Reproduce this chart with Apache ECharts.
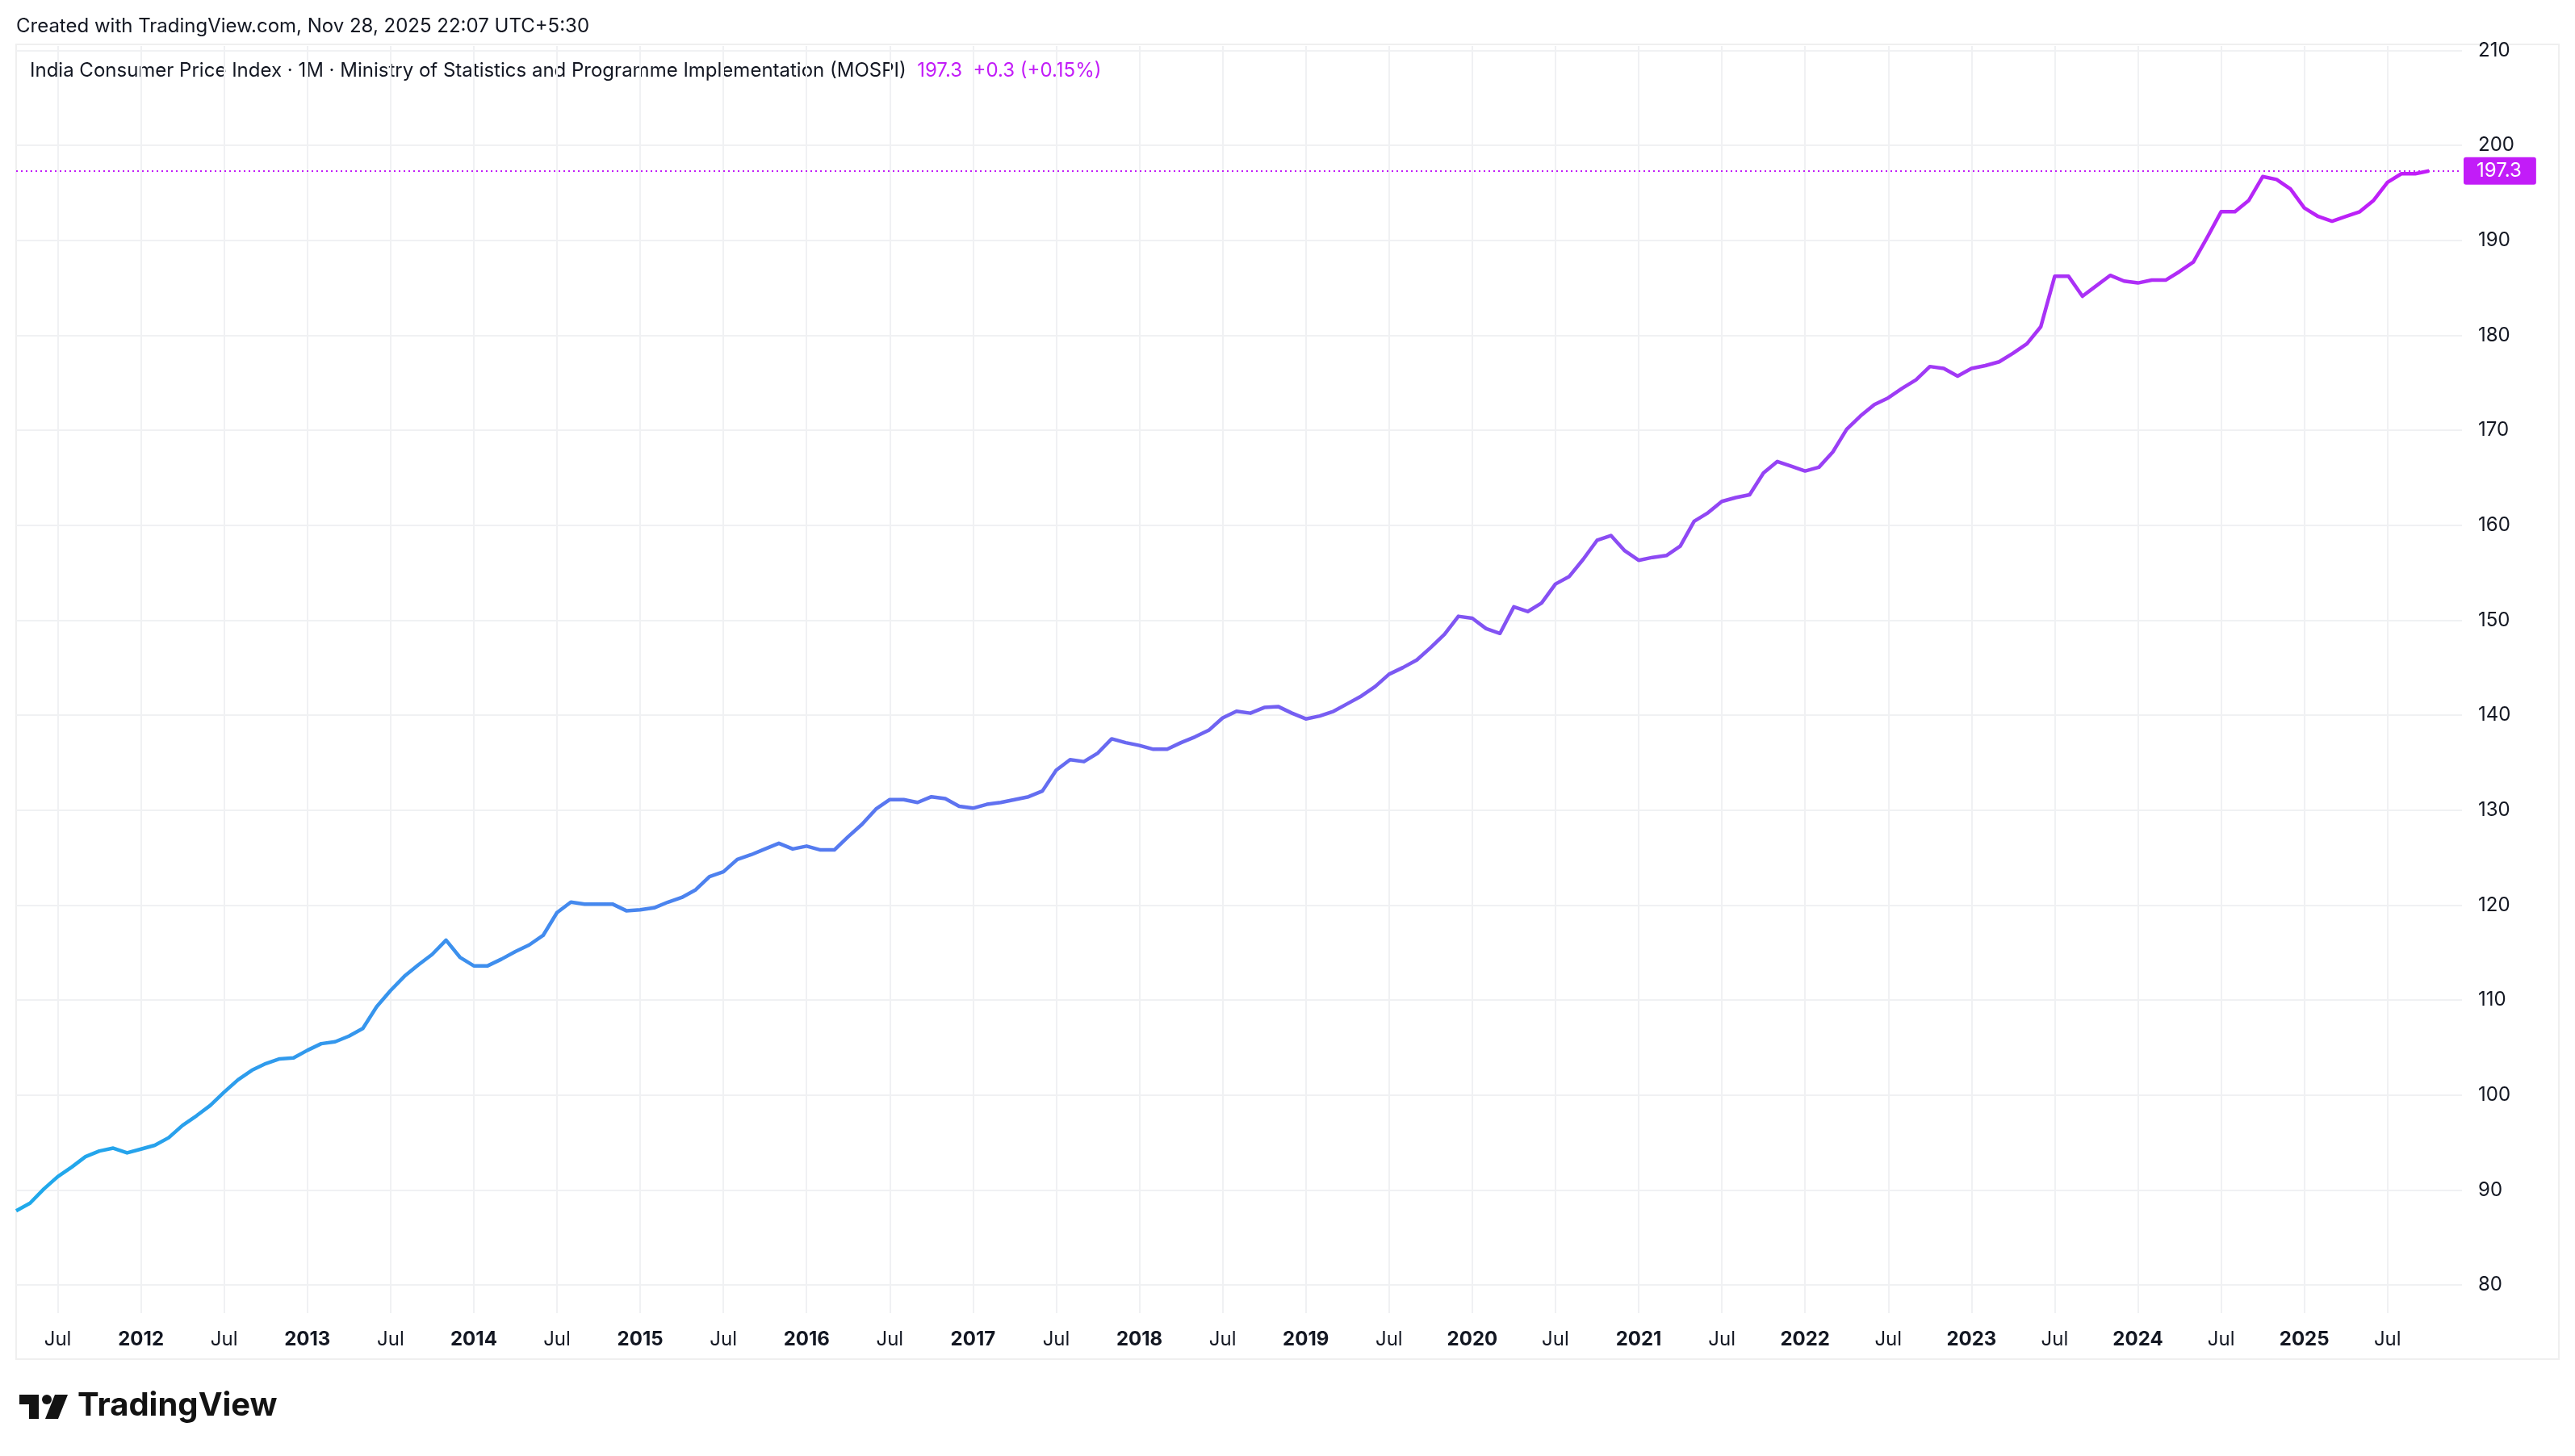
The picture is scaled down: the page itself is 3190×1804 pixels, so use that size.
<!DOCTYPE html>
<html>
<head>
<meta charset="utf-8">
<script src="https://cdn.jsdelivr.net/npm/echarts@6/dist/echarts.min.js"></script>
<style>
  html, body { margin: 0; padding: 0; background: #ffffff; }
  #chart { width: 3190px; height: 1804px; }
</style>
</head>
<body>
<div id="chart"></div>
<script>
// India CPI (monthly), first visible month Apr 2011, last Oct 2025
const startYear = 2011;
const startMonth = 4; // April
const cpi2011 = [87.8, 88.6, 90.1, 91.4, 92.4, 93.5, 94.1, 94.4, 93.9];
const cpi2012 = [94.3, 94.7, 95.5, 96.8, 97.8, 98.9, 100.3, 101.6, 102.6, 103.3, 103.8, 103.9];
const cpi2013 = [104.7, 105.4, 105.6, 106.2, 107.0, 109.3, 111.0, 112.5, 113.7, 114.8, 116.3, 114.5];
const cpi2014 = [113.6, 113.6, 114.3, 115.1, 115.8, 116.8, 119.2, 120.3, 120.1, 120.1, 120.1, 119.4];
const cpi2015 = [119.5, 119.7, 120.3, 120.8, 121.6, 123.0, 123.5, 124.8, 125.3, 125.9, 126.5, 125.9];
const cpi2016 = [126.2, 125.8, 125.8, 127.2, 128.5, 130.1, 131.1, 131.1, 130.8, 131.4, 131.2, 130.4];
const cpi2017 = [130.2, 130.6, 130.8, 131.1, 131.4, 132.0, 134.2, 135.3, 135.1, 136.0, 137.5, 137.1];
const cpi2018 = [136.8, 136.4, 136.4, 137.1, 137.7, 138.4, 139.7, 140.4, 140.2, 140.8, 140.9, 140.2];
const cpi2019 = [139.6, 139.9, 140.4, 141.2, 142.0, 143.0, 144.3, 145.0, 145.8, 147.1, 148.5, 150.4];
const cpi2020 = [150.2, 149.1, 148.6, 151.4, 150.9, 151.8, 153.8, 154.6, 156.4, 158.4, 158.9, 157.3];
const cpi2021 = [156.3, 156.6, 156.8, 157.8, 160.4, 161.3, 162.5, 162.9, 163.2, 165.5, 166.7, 166.2];
const cpi2022 = [165.7, 166.1, 167.7, 170.1, 171.5, 172.7, 173.4, 174.4, 175.3, 176.7, 176.5, 175.7];
const cpi2023 = [176.5, 176.8, 177.2, 178.1, 179.1, 180.9, 186.2, 186.2, 184.1, 185.2, 186.3, 185.7];
const cpi2024 = [185.5, 185.8, 185.8, 186.7, 187.7, 190.3, 193.0, 193.0, 194.2, 196.7, 196.4, 195.4];
const cpi2025 = [193.4, 192.5, 192.0, 192.5, 193.0, 194.2, 196.1, 197.0, 197.0, 197.3];

// time-axis tick labels (every 6 months starting Jul 2011)
const xTickLabels = ['Jul','2012','Jul','2013','Jul','2014','Jul','2015','Jul','2016','Jul','2017','Jul','2018','Jul','2019','Jul','2020','Jul','2021','Jul','2022','Jul','2023','Jul','2024','Jul','2025','Jul'];
// price-axis tick labels
const yTickLabels = [80, 90, 100, 110, 120, 130, 140, 150, 160, 170, 180, 190, 200, 210];

const allValues = [].concat(cpi2011, cpi2012, cpi2013, cpi2014, cpi2015, cpi2016, cpi2017,
  cpi2018, cpi2019, cpi2020, cpi2021, cpi2022, cpi2023, cpi2024, cpi2025);
// x = months since Jan of startYear
const firstIdx = startMonth - 1;
const seriesData = allValues.map((v, i) => [firstIdx + i, v]);
const tickPositions = xTickLabels.map((_, i) => 6 + 6 * i);
const lastVal = allValues[allValues.length - 1];
const prevVal = allValues[allValues.length - 2];
const chg = lastVal - prevVal;
const chgPct = chg / prevVal * 100;

const PURPLE = '#C21CF8';
const TXT = '#131722';
const GRID = '#F0F1F3';
const FONT = 'Inter, "Noto Sans", Roboto, sans-serif';
const X_MIN = firstIdx;
const X_MAX = 179.37;

const chart = echarts.init(document.getElementById('chart'), null, { renderer: 'canvas' });

const option = {
  backgroundColor: '#ffffff',
  animation: false,
  textStyle: { fontFamily: FONT },
  grid: [
    { left: 20, right: 140, top: 57, bottom: 177 },
    { left: 20, right: 140, top: 62.3, bottom: 212 }
  ],
  xAxis: [
    {
      type: 'value', gridIndex: 0, min: X_MIN, max: X_MAX,
      axisLine: { show: false },
      axisTick: { show: false, customValues: tickPositions },
      splitLine: { show: true, lineStyle: { color: GRID, width: 2 } },
      axisLabel: {
        customValues: tickPositions,
        margin: 21,
        fontSize: 24,
        color: TXT,
        fontFamily: FONT,
        formatter: function (val) {
          const i = Math.round((val - 6) / 6);
          const lab = xTickLabels[i];
          return lab === 'Jul' ? '{n|' + lab + '}' : '{b|' + lab + '}';
        },
        rich: {
          n: { fontSize: 24, color: TXT, fontFamily: FONT, fontWeight: 400 },
          b: { fontSize: 24, color: TXT, fontFamily: FONT, fontWeight: 700 }
        }
      }
    },
    {
      type: 'value', gridIndex: 1, min: X_MIN, max: X_MAX, show: false,
      splitLine: { show: false }
    }
  ],
  yAxis: [
    { type: 'value', gridIndex: 0, min: 0, max: 1, show: false, splitLine: { show: false } },
    {
      type: 'value', gridIndex: 1, position: 'right',
      min: yTickLabels[0], max: yTickLabels[yTickLabels.length - 1], interval: 10,
      axisLine: { show: false }, axisTick: { show: false },
      splitLine: { show: true, lineStyle: { color: GRID, width: 2 } },
      axisLabel: { margin: 20, fontSize: 24, color: TXT, fontFamily: FONT, align: 'left' }
    }
  ],
  series: [
    {
      type: 'line', xAxisIndex: 1, yAxisIndex: 1,
      data: seriesData,
      showSymbol: false, symbol: 'none',
      lineStyle: {
        width: 4.5,
        join: 'round',
        color: new echarts.graphic.LinearGradient(0, 0, 1, 0, [
          { offset: 0, color: '#1EAAEB' },
          { offset: 1, color: PURPLE }
        ])
      },
      markLine: {
        silent: true,
        symbol: ['none', 'none'],
        lineStyle: { color: PURPLE, type: [2, 4], width: 2 },
        label: {
          show: true, position: 'end', distance: 2,
          formatter: lastVal.toFixed(1),
          backgroundColor: PURPLE, color: '#ffffff',
          fontSize: 24, fontFamily: FONT,
          padding: [5, 18, 5, 16], borderRadius: 3
        },
        data: [{ yAxis: lastVal }]
      }
    }
  ],
  graphic: [
    {
      type: 'rect', silent: true, z: -1,
      shape: { x: 20, y: 55, width: 3150, height: 1629 },
      style: { fill: 'none', stroke: '#EFEFEF', lineWidth: 2 }
    },
    {
      type: 'text', left: 20, top: 21,
      style: {
        text: 'Created with TradingView.com, Nov 28, 2025 22:07 UTC+5:30',
        fontSize: 24, fontFamily: FONT, fill: TXT
      }
    },
    {
      type: 'text', left: 37, top: 76,
      style: {
        text: '{a|India Consumer Price Index · 1M · Ministry of Statistics and Programme Implementation (MOSPI)}{v|  ' +
          lastVal.toFixed(1) + '  ' + (chg >= 0 ? '+' : '') + chg.toFixed(1) + ' (' + (chg >= 0 ? '+' : '') + chgPct.toFixed(2) + '%)}',
        rich: {
          a: { fontSize: 24, fontFamily: FONT, fill: TXT, color: TXT },
          v: { fontSize: 24, fontFamily: FONT, fill: PURPLE, color: PURPLE }
        }
      }
    },
    // TradingView logo
    {
      type: 'polygon', silent: true,
      shape: { points: [[24, 1728], [48, 1728], [48, 1758], [36, 1758], [36, 1740], [24, 1740]] },
      style: { fill: '#131313' }
    },
    {
      type: 'circle', silent: true,
      shape: { cx: 58, cy: 1734, r: 6 },
      style: { fill: '#131313' }
    },
    {
      type: 'polygon', silent: true,
      shape: { points: [[68, 1728], [84, 1728], [72, 1758], [56, 1758]] },
      style: { fill: '#131313' }
    },
    {
      type: 'text', left: 96, top: 1722,
      style: {
        text: 'TradingView', fontSize: 40, fontWeight: 700, fontFamily: FONT, fill: '#131313'
      }
    }
  ]
};

chart.setOption(option);
</script>
</body>
</html>
